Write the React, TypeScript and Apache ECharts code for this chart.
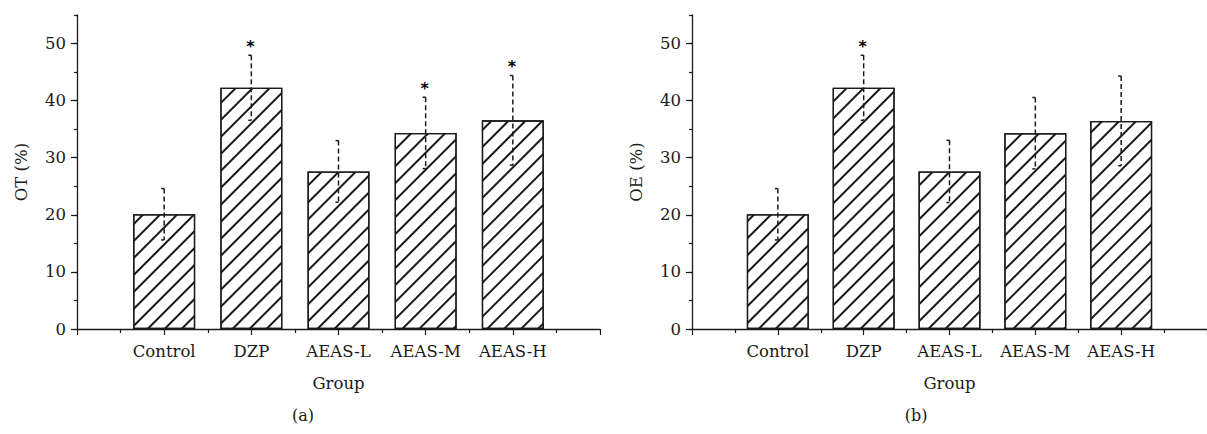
import React, { useEffect, useRef } from "react";
import * as echarts from "echarts";

const groups = ["Control", "DZP", "AEAS-L", "AEAS-M", "AEAS-H"];
const groupPos = [1, 2, 3, 4, 5];
const meanOT = [20.1, 42.25, 27.6, 34.35, 36.55];
const sdOT = [4.5, 5.7, 5.4, 6.25, 7.85];
const sigOT = [0, 1, 0, 1, 1];
const meanOE = [20.1, 42.25, 27.6, 34.3, 36.45];
const sdOE = [4.5, 5.7, 5.45, 6.25, 7.85];
const sigOE = [0, 1, 0, 0, 0];
const yTicks = [0, 10, 20, 30, 40, 50];
const panelLabels = ["(a)", "(b)"];

const FONT = "DejaVu Serif";
const INK = "#1a1a1a";

export default function App() {
  const ref = useRef<HTMLDivElement>(null);
  useEffect(() => {
    if (!ref.current) return;
    const chart = echarts.init(ref.current, null, { renderer: "svg" });

    const grids = [
      { left: 77, top: 15, height: 314, width: 523 },
      { left: 692, top: 15, height: 314, width: 523 },
    ];
    const yNames = ["OT (%)", "OE (%)"];

    const xAxis: any[] = [];
    const yAxis: any[] = [];
    grids.forEach((_, g) => {
      xAxis.push({
        type: "value",
        gridIndex: g,
        min: 0,
        max: 6,
        interval: 1,
        position: "bottom",
        axisLine: { onZero: false, lineStyle: { color: INK, width: 1.3 } },
        axisTick: { length: 6, lineStyle: { color: INK, width: 1.2 } },
        minorTick: { show: true, splitNumber: 2, length: 4, lineStyle: { color: INK, width: 1.2 } },
        splitLine: { show: false },
        minorSplitLine: { show: false },
        axisLabel: {
          customValues: groupPos,
          formatter: (v: number) => groups[Math.round(v) - 1] ?? "",
          color: INK,
          fontFamily: FONT,
          fontSize: 16.5,
          margin: 14,
        },
        name: "Group",
        nameLocation: "middle",
        nameGap: 46,
        nameTextStyle: { color: INK, fontFamily: FONT, fontSize: 16.5 },
      });
      yAxis.push({
        type: "value",
        gridIndex: g,
        min: 0,
        max: 55,
        interval: 5,
        position: "left",
        axisLine: { onZero: false, lineStyle: { color: INK, width: 1.3 } },
        axisTick: { length: 3, lineStyle: { color: INK, width: 1.2 } },
        splitLine: { show: false },
        axisLabel: {
          customValues: yTicks,
          color: INK,
          fontFamily: FONT,
          fontSize: 16.5,
          margin: 11,
        },
        name: yNames[g],
        nameLocation: "middle",
        nameGap: 47,
        nameTextStyle: { color: INK, fontFamily: FONT, fontSize: 16.5 },
      });
      yAxis.push({
        type: "value",
        gridIndex: g,
        min: 0,
        max: 55,
        interval: 5,
        position: "left",
        axisLine: { show: false },
        axisTick: { customValues: yTicks, length: 6, lineStyle: { color: INK, width: 1.2 } },
        splitLine: { show: false },
        axisLabel: { show: false },
      });
    });

    const errRender = (params: any, api: any) => {
      const x = api.value(0);
      const m = api.value(1);
      const s = api.value(2);
      const sig = api.value(3);
      const top = api.coord([x, m + s]);
      const bot = api.coord([x, m - s]);
      const children: any[] = [
        {
          type: "line",
          shape: { x1: top[0], y1: top[1], x2: bot[0], y2: bot[1] },
          style: { stroke: INK, lineWidth: 1.5, lineDash: [5, 3] },
        },
        {
          type: "line",
          shape: { x1: top[0] - 3, y1: top[1], x2: top[0], y2: top[1] },
          style: { stroke: INK, lineWidth: 1.5 },
        },
        {
          type: "line",
          shape: { x1: bot[0] - 3, y1: bot[1], x2: bot[0], y2: bot[1] },
          style: { stroke: INK, lineWidth: 1.5 },
        },
      ];
      if (sig) {
        children.push({
          type: "text",
          x: top[0] - 1,
          y: top[1] - 1,
          style: {
            text: "*",
            align: "center",
            verticalAlign: "bottom",
            fontSize: 16,
            fontWeight: "bold",
            fontFamily: "DejaVu Sans",
            fill: "#000",
          },
        });
      }
      return { type: "group", children };
    };

    const sets = [
      { mean: meanOT, sd: sdOT, sig: sigOT },
      { mean: meanOE, sd: sdOE, sig: sigOE },
    ];
    const series: any[] = [];
    sets.forEach((d, g) => {
      series.push({
        type: "bar",
        xAxisIndex: g,
        yAxisIndex: g * 2,
        barWidth: 62,
        data: d.mean.map((v, i) => [groupPos[i], v]),
        itemStyle: {
          color: "#fff",
          borderColor: INK,
          borderWidth: 1.3,
          decal: {
            symbol: "rect",
            symbolSize: 1,
            color: INK,
            dashArrayX: [1, 0],
            dashArrayY: [1.1, 9.6],
            rotation: -Math.PI / 4,
          },
        },
        z: 2,
      });
      series.push({
        type: "custom",
        xAxisIndex: g,
        yAxisIndex: g * 2,
        data: d.mean.map((v, i) => [groupPos[i], v, d.sd[i], d.sig[i]]),
        encode: { x: 0, y: 1 },
        renderItem: errRender,
        z: 5,
      });
    });

    chart.setOption({
      animation: false,
      backgroundColor: "#fff",
      grid: grids,
      xAxis,
      yAxis,
      series,
      graphic: [
        {
          type: "text",
          x: 303,
          y: 415,
          style: {
            text: panelLabels[0],
            fontFamily: FONT,
            fontSize: 16,
            fill: INK,
            align: "center",
            verticalAlign: "middle",
          },
        },
        {
          type: "text",
          x: 916,
          y: 415,
          style: {
            text: panelLabels[1],
            fontFamily: FONT,
            fontSize: 16,
            fill: INK,
            align: "center",
            verticalAlign: "middle",
          },
        },
      ],
    });
    return () => chart.dispose();
  }, []);
  return (
    <div
      ref={ref}
      style={{ position: "absolute", left: 0, top: 0, width: 1207, height: 434 }}
    />
  );
}
